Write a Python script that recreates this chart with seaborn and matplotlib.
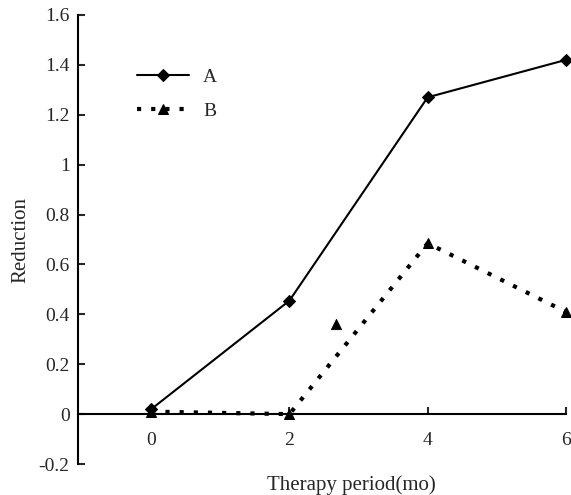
import matplotlib
matplotlib.use("Agg")
import matplotlib.pyplot as plt
import seaborn as sns
import pandas as pd

periods = [0, 2, 4, 6]
series_a = [0.02, 0.455, 1.27, 1.42]
series_b = [0.01, 0.0, 0.685, 0.41]
extra_x = [2.68]
extra_y = [0.36]
yticks = [-0.2, 0, 0.2, 0.4, 0.6, 0.8, 1, 1.2, 1.4, 1.6]
ytick_labels = ["-0.2", "0", "0.2", "0.4", "0.6", "0.8", "1", "1.2", "1.4", "1.6"]

sns.set_style("white")
plt.rcParams['font.family'] = ['Liberation Serif', 'DejaVu Serif']
plt.rcParams['font.size'] = 14

fig = plt.figure(figsize=(5.71, 4.95), dpi=100)
ax = fig.add_axes([0.1366, 0.0626, 0.8544, 0.9071])

dfa = pd.DataFrame({"x": periods, "y": series_a})
dfb = pd.DataFrame({"x": periods, "y": series_b})
dfe = pd.DataFrame({"x": extra_x, "y": extra_y})

sns.lineplot(data=dfa, x="x", y="y", ax=ax, color="black", linewidth=1.5,
             marker="D", markersize=6, markeredgecolor="black", label="A", clip_on=False)
sns.lineplot(data=dfb, x="x", y="y", ax=ax, color="black", linewidth=3,
             marker="^", markersize=7, markeredgecolor="black", label="B", clip_on=False)
ax.lines[-1].set_dashes((1, 2.4))
ax.lines[-1].set_dash_capstyle("butt")
sns.scatterplot(data=dfe, x="x", y="y", ax=ax, color="black", marker="^", s=55,
                edgecolor="black", legend=False, clip_on=False)

ax.set_xlim(-1.06, 6.0)
ax.set_ylim(-0.2, 1.6)
ax.set_xticks(periods)
ax.set_xticklabels([str(p) for p in periods])
ax.set_yticks(yticks)
ax.set_yticklabels(ytick_labels)

for s in ["top", "right"]:
    ax.spines[s].set_visible(False)
ax.spines["bottom"].set_position(("data", 0))
for s in ["left", "bottom"]:
    ax.spines[s].set_color("black")
    ax.spines[s].set_linewidth(1.5)

ax.tick_params(axis="x", bottom=True, direction="in", length=5, width=1.5, pad=13, labelsize=14)
ax.tick_params(axis="y", left=True, direction="in", length=5, width=1.5, pad=6, labelsize=14)

ax.set_xlabel("Therapy period(mo)", fontsize=15)
ax.xaxis.set_label_coords(0.56, -0.025)
ax.set_ylabel("Reduction", fontsize=15, labelpad=6)

leg = ax.legend(loc="upper left", bbox_to_anchor=(0.085, 0.92), frameon=False,
                handlelength=2.7, fontsize=14, labelspacing=0.85, handletextpad=0.7)

fig.savefig("out.png", dpi=100)
